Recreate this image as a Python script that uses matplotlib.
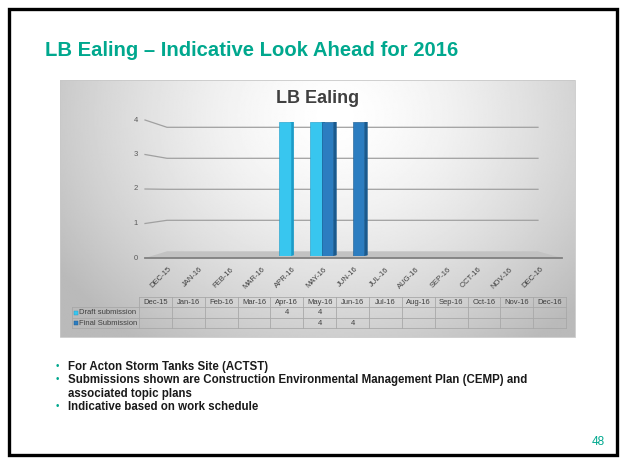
import numpy as np
import matplotlib
matplotlib.use('Agg')
import matplotlib.pyplot as plt
from matplotlib.patches import Rectangle, Polygon

plt.rcParams['font.family'] = ['Liberation Sans', 'DejaVu Sans']

# ---------------- data ----------------
months = ['Dec-15', 'Jan-16', 'Feb-16', 'Mar-16', 'Apr-16', 'May-16', 'Jun-16',
          'Jul-16', 'Aug-16', 'Sep-16', 'Oct-16', 'Nov-16', 'Dec-16']
draft = [0, 0, 0, 0, 4, 4, 0, 0, 0, 0, 0, 0, 0]
final = [0, 0, 0, 0, 0, 4, 4, 0, 0, 0, 0, 0, 0]
series_names = ['Draft submission', 'Final Submission']
yticks = [0, 1, 2, 3, 4]
page_title = 'LB Ealing \u2013 Indicative Look Ahead for 2016'
chart_title = 'LB Ealing'
bullets = ['For Acton Storm Tanks Site (ACTST)',
           'Submissions shown are Construction Environmental Management Plan (CEMP) and\nassociated topic plans',
           'Indicative based on work schedule']
page_no = '48'

# ---------------- style ----------------
TEAL = '#00A88E'
C_DRAFT = ('#38C6EF', '#1C9CC8', '#74D8F5')
C_FINAL = ('#2C7DC0', '#1A5A8E', '#5A9DD3')
GRID = '#A0A0A0'
TXT = '#404040'

W, H = 620, 459
fig = plt.figure(figsize=(6.2, 4.59), dpi=100)
fig.patch.set_facecolor('white')
bg = fig.add_axes([0, 0, 1, 1])
bg.set_xlim(0, W)
bg.set_ylim(H, 0)
bg.axis('off')

# slide frame
bg.add_patch(Rectangle((8.5, 9), 608.5, 446, fill=False, lw=2.4, ec='black', zorder=10))

# page title
bg.text(45, 56, page_title, fontsize=14.6, fontweight='bold', color=TEAL,
        ha='left', va='baseline')

# chart panel with radial gradient
px0, px1, py0, py1 = 60, 575, 80, 337
xs = np.linspace(px0, px1, 400)
ys = np.linspace(py0, py1, 200)
X, Y = np.meshgrid(xs, ys)
r = np.sqrt(((X - 335) / 330.0) ** 2 + ((Y - 115) / 280.0) ** 2)
val = 1 - 0.27 * np.clip(r, 0, 1) ** 1.5
bg.imshow(val, cmap='gray', vmin=0, vmax=1, extent=(px0, px1, py1, py0),
          origin='upper', aspect='auto', zorder=0, interpolation='bilinear')
bg.add_patch(Rectangle((px0, py0), px1 - px0, py1 - py0, fill=False, lw=0.6,
                       ec='#C8C8C8', zorder=1))

bg.text(317.5, 98.5, chart_title, fontsize=13, fontweight='bold', color=TXT,
        ha='center', va='center', zorder=2)

# 3D walls: floor + gridlines
fx0, fx1 = 145, 562      # front edge x-span
bx0, bx1 = 167, 538      # back wall x-span
front0, fstep = 258.0, 34.5
back0, bstep = 251.3, 31.0
bg.add_patch(Polygon([(fx0, front0), (fx1, front0), (bx1, back0), (bx0, back0)],
                     closed=True, fc='#C2C2C2', ec='none', zorder=1))
bg.plot([fx0, fx1], [front0, front0], color='#808080', lw=1.3, zorder=2)
for k in yticks[1:]:
    yf = front0 - fstep * k
    yb = back0 - bstep * k
    bg.plot([fx0, bx0, bx1], [yf, yb, yb], color=GRID, lw=0.9, zorder=1)
for k in yticks:
    bg.text(136, front0 - fstep * k, str(k), fontsize=5.5, color='#595959',
            ha='center', va='center', zorder=2)

# ---------------- bars ----------------
ax = fig.add_axes([151.2 / W, 1 - 256.0 / H, 403.0 / W, 134.0 / H])
ax.set_xlim(-0.5, len(months) - 0.5)
ax.set_ylim(0, 4)
ax.patch.set_alpha(0)
for s in ax.spines.values():
    s.set_visible(False)
ax.set_yticks([])
x = np.arange(len(months))
ax.set_xticks(x + 0.05)
ax.set_xticklabels([m.upper() for m in months], rotation=45, ha='right', va='top',
                   rotation_mode='anchor', fontsize=5.5, color=TXT)
ax.tick_params(axis='x', length=0, pad=7)

w = 0.377
d, dy = 0.10, 0.03


def bar3d(xc, v, cols):
    if v <= 0:
        return
    front, side, top = cols
    xl, xr = xc - w / 2, xc + w / 2
    ax.add_patch(Polygon([(xr, 0), (xr + d, dy), (xr + d, v + dy), (xr, v)],
                         closed=True, fc=side, ec=side, lw=0.3, zorder=3))
    ax.add_patch(Polygon([(xl, v), (xr, v), (xr + d, v + dy), (xl + d, v + dy)],
                         closed=True, fc=top, ec=top, lw=0.3, zorder=3))
    ax.bar(xc, v, width=w, color=front, edgecolor=side, linewidth=0.4, zorder=4)


for i in range(len(months)):
    bar3d(x[i] - w / 2, draft[i], C_DRAFT)
for i in range(len(months)):
    bar3d(x[i] + w / 2, final[i], C_FINAL)

# ---------------- data table ----------------
c0, cw = 139.0, 32.85
lab0 = 72.0
r_top, r1, r2, r_bot = 297.0, 307.0, 318.0, 328.0
ncol = len(months)
c_end = c0 + cw * ncol
tl = dict(color='#A8A8A8', lw=0.6, zorder=3)
bg.plot([c0, c_end], [r_top, r_top], **tl)
for yy in (r1, r2, r_bot):
    bg.plot([lab0, c_end], [yy, yy], **tl)
bg.plot([lab0, lab0], [r1, r_bot], **tl)
for i in range(ncol + 1):
    xx = c0 + cw * i
    bg.plot([xx, xx], [r_top, r_bot], **tl)
for i, m in enumerate(months):
    xc = c0 + cw * (i + 0.5)
    bg.text(xc, (r_top + r1) / 2 + 0.3, m, fontsize=5.5, color=TXT,
            ha='center', va='center', zorder=4)
    if draft[i]:
        bg.text(xc, (r1 + r2) / 2 + 0.3, str(draft[i]), fontsize=5.5, color=TXT,
                ha='center', va='center', zorder=4)
    if final[i]:
        bg.text(xc, (r2 + r_bot) / 2 + 0.3, str(final[i]), fontsize=5.5, color=TXT,
                ha='center', va='center', zorder=4)
for (ya, yb_), name, cols in zip([(r1, r2), (r2, r_bot)], series_names, [C_DRAFT, C_FINAL]):
    yc = (ya + yb_) / 2
    bg.add_patch(Rectangle((73.5, yc - 2), 4, 4, fc=cols[0], ec=cols[1], lw=0.3, zorder=4))
    bg.text(79, yc + 0.3, name, fontsize=5.5, color=TXT, ha='left', va='center', zorder=4)

# ---------------- bullets ----------------
by = [366, 379, 406]
for yy, t in zip(by, bullets):
    bg.text(57, yy, '\u2022', fontsize=7, color=TEAL, ha='center', va='center')
    bg.text(68, yy - 5.2, t, fontsize=8.3, fontweight='bold', color='#1A1A1A',
            ha='left', va='top', linespacing=1.3)

bg.text(598, 442, page_no, fontsize=8.5, color=TEAL, ha='center', va='center')

fig.savefig('out.png', dpi=100)
